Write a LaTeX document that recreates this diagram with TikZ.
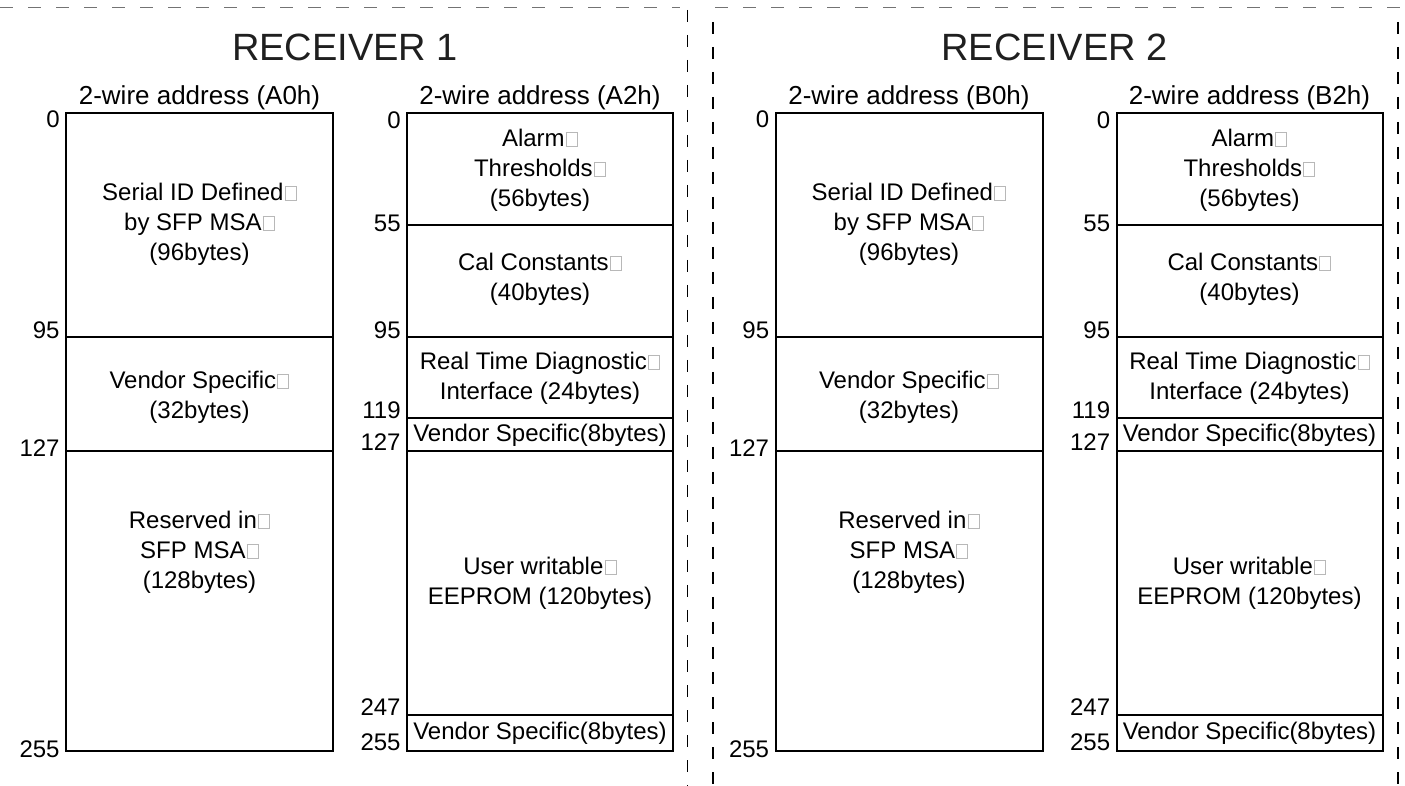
\documentclass[tikz,border=0pt]{standalone}
\usepackage{fontspec}
\setmainfont{Liberation Sans}
\newcommand\nb{\hspace{0.6pt}{\color{black!28}\fboxsep=0pt\fboxrule=0.5pt\fbox{\rule{0pt}{6.6pt}\hspace{5pt}}}}
\tikzset{
  seg/.style={draw=black, line width=1pt},
  body/.style={font=\fontsize{12}{15}\selectfont, align=center, inner sep=0pt},
  addr/.style={font=\fontsize{12}{14}\selectfont, anchor=east, inner sep=0pt},
  hdr/.style={font=\fontsize{13}{15}\selectfont, anchor=base, inner sep=0pt},
  ttl/.style={font=\fontsize{19}{22}\selectfont, anchor=base, inner sep=0pt, text=black!88},
  hframe/.style={draw=black!55, line width=0.6pt, dash pattern=on 6.5pt off 7.5pt},
  vframe/.style={draw=black, line width=0.8pt, dash pattern=on 6pt off 6.5pt}
}
% #1 xshift, #2 title, #3 left header, #4 right header, #5 suffix
\newcommand\recvpanel[5]{%
\begin{scope}[xshift=#1]
  \node[ttl] (title#5) at (345,61) {#2};
  % left memory map
  \node[hdr] (hl#5) at (199.5,105) {#3};
  \draw[seg] (66,113) rectangle (333,751);
  \draw[seg] (66,337.5) -- (333,337.5);
  \draw[seg] (66,451) -- (333,451);
  \node[addr] (la0#5) at (60,119) {0};
  \node[addr] (la95#5) at (60,330) {95};
  \node[addr] (la127#5) at (60,448) {127};
  \node[addr] (la255#5) at (60,749) {255};
  \node[body] (ls1#5) at (199.5,224) {Serial ID Defined\nb\\by SFP MSA\nb\\(96bytes)};
  \node[body] (ls2#5) at (199.5,397) {Vendor Specific\nb\\(32bytes)};
  \node[body] (ls3#5) at (199.5,552) {Reserved in\nb\\SFP MSA\nb\\(128bytes)};
  % right memory map
  \node[hdr] (hr#5) at (540,105) {#4};
  \draw[seg] (407,113) rectangle (673,751);
  \draw[seg] (407,225) -- (673,225);
  \draw[seg] (407,337.5) -- (673,337.5);
  \draw[seg] (407,418) -- (673,418);
  \draw[seg] (407,451) -- (673,451);
  \draw[seg] (407,715) -- (673,715);
  \node[addr] (ra0#5) at (401,120) {0};
  \node[addr] (ra55#5) at (401,223) {55};
  \node[addr] (ra95#5) at (401,330) {95};
  \node[addr] (ra119#5) at (401,410) {119};
  \node[addr] (ra127#5) at (401,442) {127};
  \node[addr] (ra247#5) at (401,707) {247};
  \node[addr] (ra255#5) at (401,742) {255};
  \node[body] (rs1#5) at (540,170) {Alarm\nb\\Thresholds\nb\\(56bytes)};
  \node[body] (rs2#5) at (540,279) {Cal Constants\nb\\(40bytes)};
  \node[body] (rs3#5) at (540,378) {Real Time Diagnostic\nb\\Interface (24bytes)};
  \node[body] (rs4#5) at (540,435) {Vendor Specific(8bytes)};
  \node[body] (rs5#5) at (540,583) {User writable\nb\\EEPROM (120bytes)};
  \node[body] (rs6#5) at (540,733) {Vendor Specific(8bytes)};
\end{scope}}
\begin{document}
\begin{tikzpicture}[x=0.5pt, y=-0.5pt]
  \useasboundingbox (0,0) rectangle (1405,786);
  \fill[white] (0,0) rectangle (1405,786);
  % dashed frames
  \draw[hframe] (0,7.5) -- (680,7.5);
  \draw[vframe] (687.5,10) -- (687.5,786);
  \draw[hframe] (715,7.5) -- (1405,7.5);
  \draw[vframe] (713,22) -- (713,786);
  \draw[vframe] (1398,22) -- (1398,786);
  \recvpanel{0pt}{RECEIVER 1}{2-wire address (A0h)}{2-wire address (A2h)}{a}
  \recvpanel{354.75pt}{RECEIVER 2}{2-wire address (B0h)}{2-wire address (B2h)}{b}
\end{tikzpicture}
\end{document}
